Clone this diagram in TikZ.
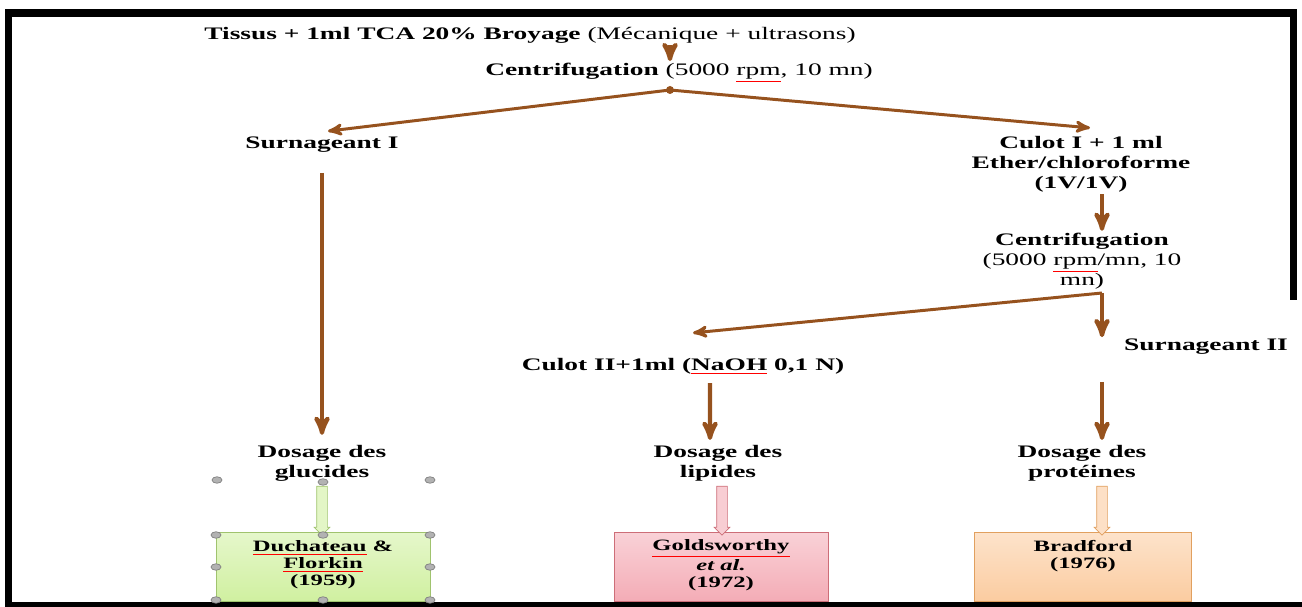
\documentclass[tikz,border=0pt]{standalone}
\usepackage{fontspec}
\setmainfont{Liberation Serif}[FakeStretch=1.56]
\usetikzlibrary{arrows,shapes,positioning,calc}
\definecolor{arrowbrown}{RGB}{150,82,30}
\definecolor{glucline}{RGB}{160,195,110}
\definecolor{glucfill}{RGB}{208,240,160}
\definecolor{lipline}{RGB}{205,110,120}
\definecolor{lipfill}{RGB}{244,172,182}
\definecolor{protline}{RGB}{225,160,95}
\definecolor{protfill}{RGB}{251,204,160}
\newcommand{\spellmark}[1]{\textcolor{red}{\underline{\textcolor{black}{#1}}}}
\tikzset{
    lbl/.style={
        align=center,
        inner sep=1pt,
        font=\fontsize{10}{11.4}\selectfont\bfseries,
    },
    reftext/.style={
        align=center,
        inner sep=1pt,
        font=\fontsize{9}{9.7}\selectfont\bfseries,
    },
    flow/.style={
        draw=arrowbrown,
        ->,>=stealth',
        line width=1.7pt,
    },
    flowv/.style={
        flow,
        line width=2.4pt,
    },
    refbox/.style 2 args={
        rectangle,
        draw=#1,
        top color=#2!55,
        bottom color=#2,
        minimum width=4.28cm,
        minimum height=1.38cm,
    },
    hollow/.style 2 args={
        single arrow,
        shape border rotate=270,
        draw=#1,
        fill=#2!60,
        inner sep=0.1cm,
        single arrow head extend=0.05cm,
        minimum height=0.98cm,
    },
}

\begin{document}
\begin{tikzpicture}[x=0.02cm,y=-0.02cm]
    \useasboundingbox (0,0) rectangle (1302,607);
    % frame
    \fill[black] (5,9) rectangle (1297,17);
    \fill[black] (5,9) rectangle (12,607);
    \fill[black] (1290,9) rectangle (1297,300);
    \fill[black] (5,602) rectangle (1302,607);

    \node [lbl] (tissus) at (530,35) {Tissus + 1ml TCA 20\% Broyage \mdseries(Mécanique + ultrasons)};
    \node [lbl] (centr1) at (679,73) {Centrifugation \mdseries(5000 \spellmark{rpm}, 10 mn)};
    \coordinate (split1) at (670,90);
    \node [lbl] (surn1) at (322,145) {Surnageant I};
    \node [lbl] (culot1) at (1081,164) {Culot I + 1 ml\\Ether/chloroforme\\(1V/1V)};
    \node [lbl] (centr2) at (1082,261) {Centrifugation\\\mdseries(5000 \spellmark{rpm}/mn, 10\\\mdseries mn)};
    \coordinate (split2) at (1102,293);
    \node [lbl] (surn2) at (1206,347) {Surnageant II};
    \node [lbl] (culot2) at (683,366) {Culot II+1ml (\spellmark{NaOH} 0,1 N)};
    \node [lbl] (dos1) at (322,463) {Dosage des\\glucides};
    \node [lbl] (dos2) at (718,463) {Dosage des\\lipides};
    \node [lbl] (dos3) at (1082,463) {Dosage des\\protéines};

    % methods
    \node [refbox={glucline}{glucfill}] (box1) at (323,567) {};
    \node [refbox={lipline}{lipfill}] (box2) at (721,567) {};
    \node [refbox={protline}{protfill}, minimum width=4.34cm] (box3) at (1083,567) {};
    \node [reftext] (ref1) at (323,565) {\spellmark{Duchateau} \&\\\spellmark{Florkin}\\(1959)};
    \node [reftext] (ref2) at (721,565) {\spellmark{Goldsworthy}\\\textit{et al.}\\(1972)};
    \node [reftext] (ref3) at (1083,556) {Bradford\\(1976)};
    \node [hollow={glucline}{glucfill}] (ha1) at (322,508) {};
    \node [hollow={lipline}{lipfill}] (ha2) at (722,508) {};
    \node [hollow={protline}{protfill}] (ha3) at (1102,508) {};

    % selection handles
    \foreach \hx/\hy in {217/480,430/480,323/482,216/535,323/535,430/535,216/567,430/567,216/600,323/600,430/600}
        \fill[gray!60, draw=gray] (\hx,\hy) ellipse (0.1cm and 0.065cm);

    \draw[flowv] (tissus.south -| split1) -- (centr1.north -| split1);
    \fill[arrowbrown] (split1) circle (0.08cm);
    \draw[flow] (split1) -- ([xshift=0.12cm,yshift=0.08cm]surn1.north);
    \draw[flow] (split1) -- ([xshift=0.18cm,yshift=0.12cm]culot1.north);
    \draw[flowv] (culot1.south -| split2) -- (centr2.north -| split2);
    \draw[flow] (split2) -- ([xshift=0.2cm,yshift=0.46cm]culot2.north);
    \draw[flowv] (split2) -- (split2 |- surn2.north);
    \draw[flowv] ([yshift=-0.36cm]surn1.south) -- ([yshift=0.16cm]dos1.north);
    \draw[flowv] ([xshift=0.54cm,yshift=-0.14cm]culot2.south) -- ([xshift=-0.16cm,yshift=0.06cm]dos2.north);
    \draw[flowv] ([yshift=-0.5cm]split2 |- surn2.south) -- ([yshift=0.06cm]split2 |- dos3.north);
\end{tikzpicture}
\end{document}
